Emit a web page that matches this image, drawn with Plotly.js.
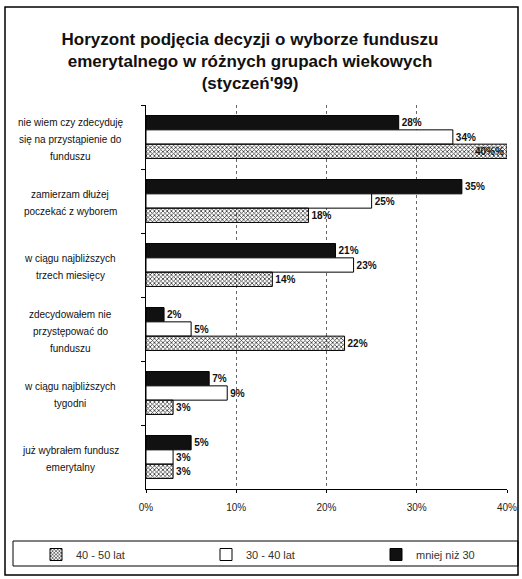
<!DOCTYPE html>
<html><head><meta charset="utf-8">
<script src="https://cdn.plot.ly/plotly-3.0.1.min.js"></script>
<style>body{margin:0;background:#fff}#c{width:522px;height:579px}</style>
</head><body><div id="c"></div>
<script>
const categories = [
  "nie wiem czy zdecyduję|się na przystąpienie do|funduszu",
  "zamierzam dłużej|poczekać z wyborem",
  "w ciągu najbliższych|trzech miesięcy",
  "zdecydowałem nie|przystępować do|funduszu",
  "w ciągu najbliższych|tygodni",
  "już wybrałem fundusz|emerytalny"
];
const under30 = [28, 35, 21, 2, 7, 5];
const age30_40 = [34, 25, 23, 5, 9, 3];
const age40_50 = [40, 18, 14, 22, 3, 3];
const seriesNames = ["mniej niż 30", "30 - 40 lat", "40 - 50 lat"];
const xTicks = [0, 10, 20, 30, 40];
const xTickLabels = ["0%", "10%", "20%", "30%", "40%"];

const F = "Liberation Sans, Arial, sans-serif";
const XMAX = 40;
const labelFont = {family: F, size: 10, color: "#111"};

function mk(name, vals, marker, legendId) {
  return {
    type: "bar", orientation: "h", y: categories, x: vals, name: name, legend: legendId,
    textposition: vals.map(v => v >= XMAX ? "inside" : "outside"),
    insidetextanchor: "end",
    texttemplate: "<b>%{x}%</b>",
    textfont: {family: F, size: 10, color: "#111"},
    insidetextfont: {family: F, size: 10, color: "#111"},
    outsidetextfont: {family: F, size: 10, color: "#111"},
    cliponaxis: false, hoverinfo: "skip", marker: marker
  };
}
const traces = [
  mk(seriesNames[0], under30, {color: "#111", line: {color: "#000", width: 1}}, "legend3"),
  mk(seriesNames[1], age30_40, {color: "#fff", line: {color: "#000", width: 1}}, "legend2"),
  mk(seriesNames[2], age40_50, {color: "#b8b8b8", line: {color: "#000", width: 1},
      pattern: {shape: "x", fgcolor: "#333", size: 3, solidity: 0.45}}, "legend")
];

const annotations = [];
categories.forEach(c => {
  const lines = c.split("|");
  const n = lines.length;
  lines.forEach((ln, i) => {
    annotations.push({xref: "paper", yref: "y", x: -0.21, y: c, text: ln,
      showarrow: false, xanchor: "center", yanchor: "middle",
      yshift: -((i - (n - 1) / 2) * 17) - 2, font: labelFont});
  });
});

function leg(px) {
  return {orientation: "h", x: px / 522, xref: "container", xanchor: "left",
    y: 1 - 540 / 579, yref: "container", yanchor: "top",
    font: {family: F, size: 11, color: "#333"}, bgcolor: "rgba(0,0,0,0)", borderwidth: 0};
}

const layout = {
  width: 522, height: 579,
  paper_bgcolor: "#fff", plot_bgcolor: "#fff",
  margin: {l: 146, r: 15, t: 105, b: 90},
  font: {family: F, color: "#111"},
  title: {text: "<b>Horyzont podjęcia decyzji o wyborze funduszu<br>emerytalnego w różnych grupach wiekowych<br>(styczeń'99)</b>",
    font: {family: F, size: 17, color: "#111"}, x: 250 / 522, xref: "container", xanchor: "center",
    y: 1 - 45 / 579, yref: "container", yanchor: "middle"},
  barmode: "group", bargap: 0.33, bargroupgap: 0,
  uniformtext: {minsize: 10, mode: "show"},
  xaxis: {range: [0, XMAX], tickvals: xTicks, ticktext: xTickLabels,
    showgrid: true, gridcolor: "#666", griddash: "dot", gridwidth: 1,
    showline: true, linecolor: "#000", linewidth: 1, ticks: "outside", ticklen: 3,
    tickcolor: "#000", zeroline: false, fixedrange: true, ticklabelstandoff: 6,
    tickfont: {family: F, size: 10, color: "#222"}},
  yaxis: {type: "category", autorange: "reversed", showticklabels: false,
    showline: true, linecolor: "#000", linewidth: 1, ticks: "outside", ticklen: 4,
    tickcolor: "#000", tickson: "boundaries", showgrid: false, fixedrange: true},
  showlegend: true,
  legend: leg(36), legend2: leg(206), legend3: leg(376),
  annotations: annotations,
  shapes: [
    {type: "rect", xref: "paper", yref: "paper", x0: (5 - 146) / 361, x1: (518 - 146) / 361,
      y0: (489 - 575) / 384, y1: (489 - 7) / 384, line: {color: "#000", width: 1.5}},
    {type: "rect", xref: "paper", yref: "paper", x0: (13 - 146) / 361, x1: (518 - 146) / 361,
      y0: (489 - 566) / 384, y1: (489 - 541) / 384, line: {color: "#000", width: 1}}
  ]
};
Plotly.newPlot("c", traces, layout, {staticPlot: true});
</script></body></html>
